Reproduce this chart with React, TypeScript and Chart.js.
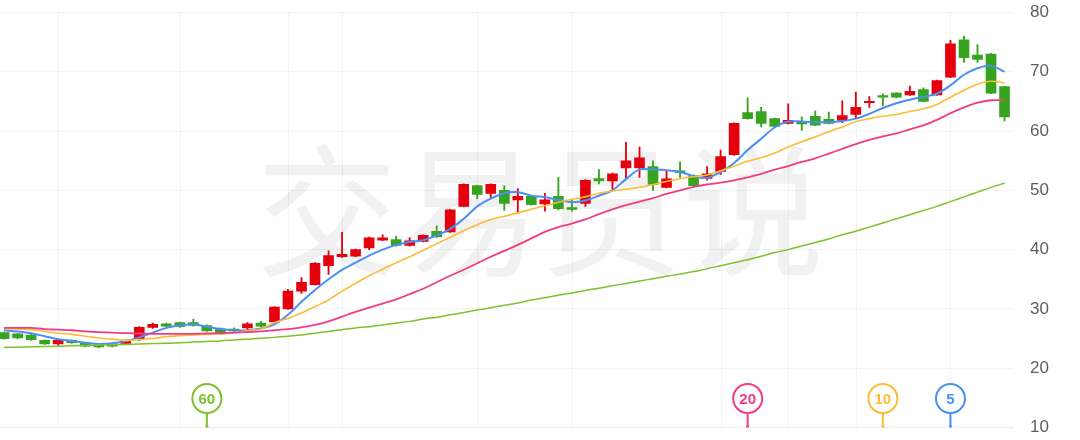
import React, { useEffect, useRef } from "react";
import { Chart, registerables } from "chart.js";

Chart.register(...registerables);

// ---- data ----
const opens = [26.0,25.8,25.6,24.7,24.1,24.7,24.2,24.1,24.1,24.2, 24.8,26.9,27.5,27.7,27.7,27.2,26.65,26.6,26.8,27.6, 27.8,30.0,33.0,34.1,37.3,38.8,38.9,40.3,41.6,41.7, 40.7,41.4,43.1,43.0,47.3,50.8,49.5,50.0,48.4,49.0, 47.7,49.0,47.1,47.8,52.0,51.6,53.8,53.8,54.0,50.5, 53.3,52.5,52.0,53.2,56.0,63.1,63.3,62.1,61.3,61.5, 62.5,62.0,61.8,62.8,64.8,66.0,66.4,66.1,67.0,66.1, 69.1,75.4,72.8,73.0,67.5];
const closes = [25.0,25.1,24.8,24.1,24.7,24.3,23.7,23.6,23.7,24.7, 26.9,27.4,27.1,27.0,27.2,26.3,25.8,26.3,27.5,27.1, 30.3,33.0,34.5,37.7,39.0,39.2,40.0,42.0,42.0,40.7, 41.5,42.4,42.2,46.7,51.0,49.3,51.0,47.8,49.0,47.6, 48.4,46.9,46.8,51.7,51.6,52.8,55.0,55.5,51.0,51.95, 53.0,50.8,52.8,55.7,61.3,62.1,61.3,60.8,61.8,61.2, 61.0,61.3,62.6,64.0,65.0,65.7,65.7,66.7,65.0,68.5, 74.7,72.4,72.1,66.4,62.4];
const highs = [26.1,25.9,25.7,24.8,24.8,24.8,24.3,24.2,24.2,24.8, 27.0,27.6,27.6,27.8,28.3,27.3,26.8,26.8,27.7,27.9, 30.4,33.3,35.3,37.8,39.8,42.9,40.1,42.1,42.5,42.3, 42.0,42.5,44.0,46.8,51.1,50.9,51.1,50.8,50.3,49.1, 49.5,52.2,48.3,51.8,53.5,52.9,58.1,57.3,55.0,53.2, 54.8,52.6,54.0,56.8,61.4,65.6,64.0,62.2,64.6,62.4, 63.4,63.2,65.1,66.6,65.8,66.3,66.5,67.6,67.3,68.6, 75.3,76.0,74.6,73.1,67.6];
const lows = [24.9,25.0,24.7,24.0,23.9,24.2,23.6,23.4,23.6,24.1, 24.7,26.7,27.0,26.9,27.1,26.2,25.7,26.1,26.1,27.0, 27.7,29.9,32.6,34.0,35.8,38.7,38.8,40.0,41.5,40.6, 40.6,41.3,42.0,42.9,47.2,48.6,48.6,46.6,46.1,47.5, 46.5,46.7,46.5,47.3,51.1,49.9,52.1,52.2,50.0,50.4, 52.2,50.7,51.7,52.7,55.9,62.0,60.7,60.7,61.2,60.1, 60.9,61.2,61.4,62.2,64.0,64.3,65.6,66.0,64.9,66.0, 69.0,71.6,71.6,66.3,61.7];

const ma5 = [26.4,26.2,25.9,25.4,24.9,24.6,24.3,24.1,24.2,24.6, 25.2,26.0,26.8,27.2,27.4,27.0,26.6,26.4,26.4,26.7, 27.4,29.0,31.2,33.2,35.0,36.6,37.8,39.0,40.0,40.8, 41.3,41.6,42.4,43.5,45.2,47.3,48.6,49.5,49.7,49.1, 48.85,48.4,48.0,48.3,49.1,50.0,51.9,53.5,53.5,53.4, 53.1,52.4,52.1,53.1,54.6,56.8,58.7,60.6,61.6,61.6, 61.5,61.5,61.7,62.1,62.9,63.9,64.7,65.3,65.8,66.3, 67.7,69.5,70.6,71.0,70.0];
const ma10 = [26.65,26.6,26.5,26.2,25.9,25.7,25.4,25.1,24.9,24.7, 24.85,25.0,25.3,25.5,25.6,25.7,25.8,26.0,26.3,26.6, 27.7,28.4,29.3,30.4,31.5,33.0,34.3,35.6,36.7,37.8, 38.8,39.9,41.0,42.1,43.2,44.2,45.1,45.6,46.2,46.8, 47.4,48.0,48.5,48.9,49.5,49.9,50.2,50.5,51.0,51.5, 51.95,52.3,52.6,53.3,54.1,54.9,55.5,56.3,57.3,58.2, 59.0,59.9,60.7,61.6,62.1,62.5,62.8,63.3,63.75,64.5, 65.7,66.9,67.9,68.4,68.1];
const ma20 = [26.8,26.8,26.8,26.6,26.5,26.4,26.2,26.1,26.0,25.9, 25.85,25.8,25.8,25.8,25.8,25.85,25.9,26.0,26.1,26.2, 26.4,26.6,26.9,27.3,27.9,28.7,29.5,30.2,30.9,31.6, 32.5,33.4,34.5,35.6,36.6,37.7,38.8,39.8,40.8,41.9, 43.0,43.8,44.4,45.1,46.0,46.8,47.5,48.1,48.7,49.4, 50.0,50.6,51.0,51.3,51.7,52.2,52.8,53.5,54.1,54.8, 55.4,56.2,57.0,57.8,58.5,59.1,59.6,60.3,60.95,61.9, 63.0,64.0,64.8,65.2,65.2];
const ma60 = [23.5,23.55,23.6,23.65,23.7,23.8,23.85,23.9,23.95,24.0, 24.1,24.15,24.2,24.3,24.4,24.5,24.6,24.75,24.9,25.05, 25.2,25.4,25.6,25.9,26.2,26.5,26.8,27.0,27.3,27.6, 27.9,28.3,28.6,29.0,29.4,29.8,30.2,30.6,31.0,31.5, 31.9,32.3,32.7,33.1,33.5,33.9,34.3,34.7,35.1,35.5, 35.9,36.3,36.8,37.3,37.8,38.3,38.9,39.5,40.0,40.6, 41.2,41.8,42.5,43.1,43.8,44.5,45.2,45.9,46.6,47.3, 48.1,48.9,49.7,50.5,51.2];

const maPeriods = [5, 10, 20, 60];
const maColors = ["#4a8ff6", "#fbbd33", "#f13c85", "#7dc12c"];
const gridIdx = [4, 13, 21, 25, 35, 42, 53, 58, 63, 70];
const yMin = 10;
const yMax = 80;
const yStep = 10;
const watermark = "交易员说";

const UP = "#e6000d";
const DOWN = "#36a41f";

const candleColor = (ctx: any) => {
  const i = ctx.dataIndex;
  return closes[i] >= opens[i] ? UP : DOWN;
};

const overlayPlugin = {
  id: "overlay",
  beforeDatasetsDraw(chart: any) {
    const { ctx, chartArea, scales } = chart;
    ctx.save();
    // vertical grid lines
    ctx.strokeStyle = "#f3f3f3";
    ctx.lineWidth = 1;
    gridIdx.forEach((i) => {
      const x = Math.round(scales.x.getPixelForValue(i)) + 0.5;
      ctx.beginPath();
      ctx.moveTo(x, chartArea.top);
      ctx.lineTo(x, chartArea.bottom);
      ctx.stroke();
    });
    // watermark
    ctx.fillStyle = "rgba(0,0,0,0.055)";
    ctx.font = '142px "Noto Sans CJK SC"';
    ctx.textAlign = "center";
    ctx.textBaseline = "middle";
    ctx.fillText(watermark, chart.width / 2, 211);
    ctx.restore();
  },
  afterDatasetsDraw(chart: any) {
    const { ctx, chartArea, scales } = chart;
    const n = closes.length;
    ctx.save();
    maPeriods.forEach((p, k) => {
      const color = maColors[k];
      const x = scales.x.getPixelForValue(n - p);
      const cy = chartArea.bottom - 29;
      ctx.strokeStyle = color;
      ctx.fillStyle = color;
      ctx.lineWidth = 2;
      ctx.beginPath();
      ctx.moveTo(x, cy + 14);
      ctx.lineTo(x, chartArea.bottom - 1);
      ctx.stroke();
      ctx.fillRect(x - 1.5, chartArea.bottom - 2, 3, 2);
      ctx.beginPath();
      ctx.arc(x, cy, 14.5, 0, Math.PI * 2);
      ctx.fillStyle = "#ffffff";
      ctx.fill();
      ctx.stroke();
      ctx.fillStyle = color;
      ctx.font = 'bold 15px "Liberation Sans", Arial, sans-serif';
      ctx.textAlign = "center";
      ctx.textBaseline = "middle";
      ctx.fillText(String(p), x, cy + 1);
    });
    ctx.restore();
  },
};

export default function App() {
  const ref = useRef<HTMLCanvasElement | null>(null);

  useEffect(() => {
    if (!ref.current) return;
    const idx = closes.map((_, i) => i);
    const line = (arr: number[], color: string, w: number) => ({
      type: "line" as const,
      data: arr.map((v, i) => ({ x: i, y: v })),
      borderColor: color,
      borderWidth: w,
      pointRadius: 0,
      tension: 0.35,
      fill: false,
      order: 1,
    });
    const chart = new Chart(ref.current, {
      type: "bar",
      data: {
        datasets: [
          {
            type: "bar",
            data: idx.map((i) => ({ x: i, y: [lows[i], highs[i]] })) as any,
            backgroundColor: candleColor,
            barThickness: 1.2,
            grouped: false,
            borderWidth: 0,
            order: 3,
          } as any,
          {
            type: "bar",
            data: idx.map((i) => ({ x: i, y: [opens[i], closes[i]] })) as any,
            backgroundColor: candleColor,
            barThickness: 10,
            grouped: false,
            borderWidth: 0,
            order: 2,
          } as any,
          line(ma60, maColors[3], 1.5) as any,
          line(ma20, maColors[2], 1.8) as any,
          line(ma10, maColors[1], 1.6) as any,
          line(ma5, maColors[0], 2) as any,
        ],
      },
      options: {
        responsive: false,
        animation: false,
        devicePixelRatio: 1,
        events: [],
        layout: { padding: 0 },
        plugins: { legend: { display: false }, tooltip: { enabled: false } },
        scales: {
          x: {
            type: "linear",
            min: -0.3,
            max: closes.length - 0.3,
            offset: false,
            display: false,
          },
          y: {
            position: "right",
            min: yMin,
            max: yMax,
            ticks: {
              stepSize: yStep,
              color: "#5e5e5e",
              padding: 3,
              font: { size: 17, family: '"Liberation Sans", Arial, sans-serif', lineHeight: 1.12 },
            },
            grid: {
              color: (c: any) => (c.tick && c.tick.value === yMin ? "#ebebeb" : "#f3f3f3"),
              drawTicks: true,
              tickLength: 13,
              tickColor: "rgba(0,0,0,0)",
            },
            border: { display: false },
            afterFit: (s: any) => {
              s.width = 66;
            },
          },
        },
      } as any,
      plugins: [overlayPlugin],
    });
    return () => chart.destroy();
  }, []);

  return (
    <div style={{ position: "fixed", left: 0, top: 0, width: 1080, height: 440, background: "#fff" }}>
      <canvas ref={ref} width={1080} height={440} style={{ display: "block" }} />
    </div>
  );
}
